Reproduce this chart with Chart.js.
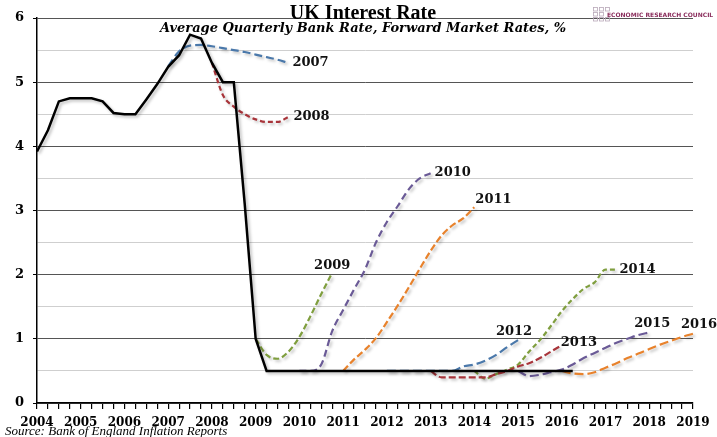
<!DOCTYPE html>
<html>
<head>
<meta charset="utf-8">
<script src="https://cdn.jsdelivr.net/npm/chart.js@4.4.0/dist/chart.umd.min.js"></script>
<style>
html, body { margin: 0; padding: 0; background: #fff; }
</style>
</head>
<body>
<canvas id="rateChart" width="717" height="437"></canvas>
<script>
// quarterly averages, first value is Q1 of the start year
let bankStart = 2004;
let bankRate = [
    3.92, 4.25, 4.7, 4.75,
    4.75, 4.75, 4.7, 4.52,
    4.5, 4.5, 4.73, 4.97,
    5.24, 5.42, 5.74, 5.68,
    5.3, 5.0, 5.0, 3.1,
    1.0, 0.5, 0.5, 0.5,
    0.5, 0.5, 0.5, 0.5,
    0.5, 0.5, 0.5, 0.5,
    0.5, 0.5, 0.5, 0.5,
    0.5, 0.5, 0.5, 0.5,
    0.5, 0.5, 0.5, 0.5,
    0.5, 0.5, 0.5, 0.5,
    0.5, 0.5
];

// forward market curves, each starts in Q1 of its report year
let fwd2007 = [5.25, 5.48, 5.57, 5.58, 5.56, 5.53, 5.5, 5.47, 5.43, 5.39, 5.35, 5.3];
let fwd2008 = [5.3, 4.8, 4.62, 4.5, 4.42, 4.38, 4.38, 4.46];
let fwd2009 = [1.0, 0.75, 0.69, 0.8, 1.03, 1.35, 1.7, 2.03];
let fwd2010 = [0.5, 0.5, 0.6, 1.12, 1.45, 1.77, 2.08, 2.5, 2.82, 3.07, 3.33, 3.5, 3.58];
let fwd2011 = [0.5, 0.68, 0.83, 1.01, 1.26, 1.52, 1.8, 2.09, 2.37, 2.61, 2.77, 2.88, 3.05];
let fwd2012 = [0.5, 0.5, 0.5, 0.5, 0.5, 0.5, 0.5, 0.57, 0.6, 0.66, 0.75, 0.87, 0.98];
let fwd2013 = [0.5, 0.4, 0.4, 0.4, 0.4, 0.4, 0.45, 0.5, 0.57, 0.62, 0.7, 0.8, 0.9];
let fwd2014 = [0.5, 0.38, 0.45, 0.52, 0.6, 0.8, 0.98, 1.2, 1.43, 1.62, 1.78, 1.88, 2.08, 2.08];
let fwd2015 = [0.5, 0.42, 0.44, 0.48, 0.52, 0.6, 0.7, 0.78, 0.86, 0.94, 1.0, 1.06, 1.1];
let fwd2016 = [0.5, 0.46, 0.45, 0.48, 0.55, 0.62, 0.7, 0.77, 0.84, 0.91, 0.97, 1.03, 1.08];

let curveYears = [2007, 2008, 2009, 2010, 2011, 2012, 2013, 2014, 2015, 2016];
let curveRates = [fwd2007, fwd2008, fwd2009, fwd2010, fwd2011, fwd2012, fwd2013, fwd2014, fwd2015, fwd2016];

let curveColors = ['#4a78aa', '#a8343a', '#7f9e3e', '#6a5a96', '#e8822c',
                   '#4a78aa', '#a8343a', '#7f9e3e', '#6a5a96', '#e8822c'];
let curveDash = [[8,4], [5,3], [6,3], [7,4], [7,3], [9,4], [7,3], [5,3], [9,4], [9,4]];

// where each year label sits relative to the end of its curve
let labelPos = {
    2007: { dx: 4, dy: 0, align: 'left' },
    2008: { dx: 5, dy: 0, align: 'left' },
    2009: { dx: 0, dy: -7, align: 'center' },
    2010: { dx: 4, dy: -1, align: 'left' },
    2011: { dx: 1, dy: -8, align: 'left' },
    2012: { dx: -4, dy: -8, align: 'center' },
    2013: { dx: -1, dy: -3, align: 'left' },
    2014: { dx: 3, dy: 0, align: 'left' },
    2015: { dx: 3, dy: -9, align: 'center' },
    2016: { dx: 6, dy: -9, align: 'center' }
};

function toPoints(start, values){
    return values.map((v, i) => ({ x: start + i * 0.25, y: v }));
}

let datasets = [{
    label: 'Bank Rate',
    data: toPoints(bankStart, bankRate),
    borderColor: '#000',
    borderWidth: 2.5,
    tension: 0,
    pointRadius: 0,
    clip: 6
}];

curveYears.forEach((yr, i) => {
    datasets.push({
        label: String(yr),
        data: toPoints(yr, curveRates[i]),
        borderColor: curveColors[i],
        borderWidth: 2.2,
        borderDash: curveDash[i],
        tension: 0.35,
        cubicInterpolationMode: 'monotone',
        pointRadius: 0,
        clip: 6
    });
});

let decorations = {
    id: 'decorations',
    beforeDatasetsDraw(chart){
        let ctx = chart.ctx;
        ctx.save();
        ctx.shadowColor = 'rgba(0,0,0,0.25)';
        ctx.shadowBlur = 3;
        ctx.shadowOffsetX = 2;
        ctx.shadowOffsetY = 2;
    },
    afterDatasetsDraw(chart){
        chart.ctx.restore();
    },
    afterDraw(chart){
        let ctx = chart.ctx;
        ctx.save();

        // curve labels
        ctx.fillStyle = '#111';
        ctx.font = 'bold 13px "DejaVu Serif"';
        ctx.textBaseline = 'middle';
        curveYears.forEach((yr, i) => {
            let pts = chart.getDatasetMeta(i + 1).data;
            let last = pts[pts.length - 1];
            let p = labelPos[yr];
            ctx.textAlign = p.align;
            ctx.fillText(String(yr), last.x + p.dx, last.y + p.dy);
        });

        // title
        ctx.textAlign = 'center';
        ctx.textBaseline = 'alphabetic';
        ctx.fillStyle = '#000';
        ctx.font = 'bold 20px "Liberation Serif"';
        ctx.fillText('UK Interest Rate', 363, 19);
        ctx.font = 'italic bold 13px "DejaVu Serif"';
        ctx.fillText('Average Quarterly Bank Rate, Forward Market Rates, %', 363, 32);

        // source
        ctx.textAlign = 'left';
        ctx.font = 'italic 13px "Liberation Serif"';
        ctx.fillText('Source: Bank of England Inflation Reports', 5, 435);

        // logo
        ctx.strokeStyle = '#b9a9b9';
        ctx.lineWidth = 0.8;
        let rows = [3, 2, 3];
        rows.forEach((n, r) => {
            for(let c = 0; c < n; c++){
                ctx.strokeRect(593.5 + c * 6, 7.5 + r * 5, 4, 3.5);
            }
        });
        ctx.fillStyle = '#8a2d5c';
        ctx.font = 'bold 6px "DejaVu Sans"';
        ctx.textBaseline = 'middle';
        ctx.fillText('ECONOMIC RESEARCH COUNCIL', 607, 15);

        ctx.restore();
    }
};

let ctx = document.getElementById('rateChart').getContext('2d');

let rateChart = new Chart(ctx, {
    type: 'line',
    data: { datasets: datasets },
    plugins: [decorations],
    options: {
        responsive: false,
        animation: false,
        layout: { padding: { left: 0, right: 24, top: 18, bottom: 0 } },
        plugins: {
            legend: { display: false },
            tooltip: { enabled: false }
        },
        scales: {
            x: {
                type: 'linear',
                min: 2004,
                max: 2019,
                afterFit(scale){ scale.height = 34; },
                border: { color: '#000', width: 1.5 },
                grid: {
                    drawOnChartArea: false,
                    drawTicks: true,
                    tickLength: 6,
                    color: '#000',
                    lineWidth: 1.2
                },
                ticks: {
                    stepSize: 0.25,
                    autoSkip: false,
                    maxRotation: 0,
                    padding: 7,
                    color: '#000',
                    font: { family: '"DejaVu Serif"', weight: 'bold', size: 12 },
                    callback: v => Number.isInteger(v) ? String(v) : ''
                }
            },
            y: {
                min: 0,
                max: 6,
                afterFit(scale){ scale.width = 37; },
                border: { color: '#000', width: 1.5 },
                grid: {
                    tickLength: 4,
                    color: c => Number.isInteger(c.tick.value) ? '#555' : '#cfcfcf',
                    tickColor: c => Number.isInteger(c.tick.value) ? '#000' : 'rgba(0,0,0,0)',
                    lineWidth: 1
                },
                ticks: {
                    stepSize: 0.5,
                    padding: 9,
                    color: '#000',
                    font: { family: '"DejaVu Serif"', weight: 'bold', size: 13 },
                    callback: v => Number.isInteger(v) ? String(v) : ''
                }
            }
        }
    }
});
</script>
</body>
</html>
